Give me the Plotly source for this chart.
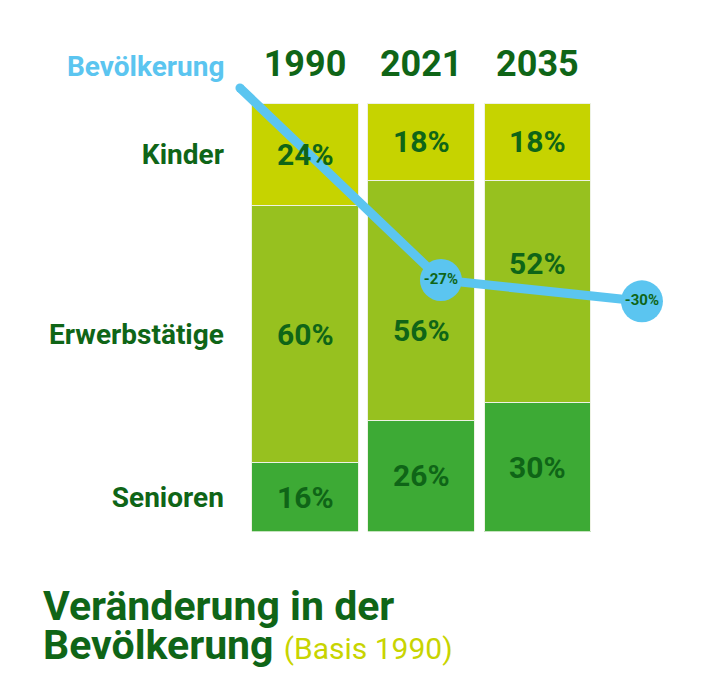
import plotly.graph_objects as go

# Bevölkerungsstruktur in Prozent
jahre = ['1990', '2021', '2035']
kinder = [24, 18, 18]
erwerbstaetige = [60, 56, 52]
senioren = [16, 26, 30]
gruppen = ['Senioren', 'Erwerbstätige', 'Kinder']

# Veränderung der Bevölkerung gegenüber 1990 in Prozent
bevoelkerung = [0, -27, -30]

dunkelgruen = '#0f6517'
blau = '#5bc5f0'
farben = {'Kinder': '#c6d300', 'Erwerbstätige': '#97c11f', 'Senioren': '#3daa35'}
# einzelne Beschriftungen etwas von der Linie wegschieben (Pixel)
verschiebung = {('Erwerbstätige', '2021'): -30, ('Erwerbstätige', '2035'): 28}

W, H = 685, 684   # Seite hat 8px Body-Rand
R = 8


def px(x):
    return (x - R) / W


def py(y):
    return 1 - (y - R) / H


fig = go.Figure()
unten = [0] * len(jahre)
for name, werte in zip(gruppen, [senioren, erwerbstaetige, kinder]):
    fig.add_bar(x=jahre, y=werte, name=name, textposition='none', hoverinfo='skip',
                marker=dict(color=farben[name], line=dict(color='#eef2e4', width=1)))
    # Prozentwerte als Annotationen, damit sie über der Linie liegen
    for i, w in enumerate(werte):
        fig.add_annotation(x=i, y=unten[i] + w / 2, xref='x', yref='y',
                           text=f'<b>{w}%</b>', showarrow=False,
                           yshift=verschiebung.get((name, jahre[i]), 0),
                           font=dict(family='Roboto', size=30, color=dunkelgruen))
        unten[i] += w

# Beschriftung der Gruppen auf Höhe der Segmente von 1990
mitten = []
u = 0
for werte in [senioren, erwerbstaetige, kinder]:
    mitten.append(u + werte[0] / 2)
    u += werte[0]

fig.add_scatter(x=list(range(len(jahre))), y=bevoelkerung, xaxis='x2', yaxis='y2',
                mode='lines+markers+text', cliponaxis=False, hoverinfo='skip',
                line=dict(color=blau, width=9),
                marker=dict(color=blau, opacity=1, line=dict(width=0),
                            size=[9] + [42] * (len(bevoelkerung) - 1)),
                text=['' if v == 0 else f'{v}%' for v in bevoelkerung],
                textposition='middle center',
                textfont=dict(family='Roboto', size=15, color=dunkelgruen, weight='bold'))

fig.add_annotation(x=0, y=bevoelkerung[0], xref='x2', yref='y2', text='<b>Bevölkerung</b>',
                   showarrow=False, xanchor='right', yanchor='middle', xshift=-14, yshift=22,
                   font=dict(family='Roboto', size=28, color=blau))
fig.add_annotation(x=px(41), y=py(606), xref='paper', yref='paper',
                   text='<b>Veränderung in der</b>', showarrow=False,
                   xanchor='left', yanchor='middle',
                   font=dict(family='Roboto', size=41, color=dunkelgruen))
fig.add_annotation(x=px(41), y=py(645), xref='paper', yref='paper',
                   text='<b>Bevölkerung</b> <span style="color:#c8d400;font-size:30px">(Basis 1990)</span>',
                   showarrow=False, xanchor='left', yanchor='middle',
                   font=dict(family='Roboto', size=41, color=dunkelgruen))

fig.update_layout(
    width=W, height=H, barmode='stack', bargap=0.083, showlegend=False,
    margin=dict(l=0, r=0, t=0, b=0),
    paper_bgcolor='white', plot_bgcolor='rgba(0,0,0,0)',
    font=dict(family='Roboto', color=dunkelgruen),
    xaxis=dict(type='category', range=[-0.5, len(jahre) - 0.5],
               domain=[px(246.9), px(595.5)], side='top', showgrid=False, zeroline=False,
               ticks='', ticklabelstandoff=19, fixedrange=True,
               tickfont=dict(family='Roboto', size=36, color=dunkelgruen, weight='bold')),
    yaxis=dict(domain=[py(531.5), py(103)], range=[0, 100], showgrid=False,
               zeroline=False, ticks='', tickvals=mitten, ticktext=gruppen,
               ticklabelstandoff=22, fixedrange=True,
               tickfont=dict(family='Roboto', size=28, color=dunkelgruen, weight='bold')),
    xaxis2=dict(domain=[0, 1], range=[-1.154, 2.254], visible=False, anchor='y2'),
    yaxis2=dict(domain=[0, 1], range=[-84.94, 11.25], visible=False, anchor='x2'),
)

fig.write_html('out.html')
